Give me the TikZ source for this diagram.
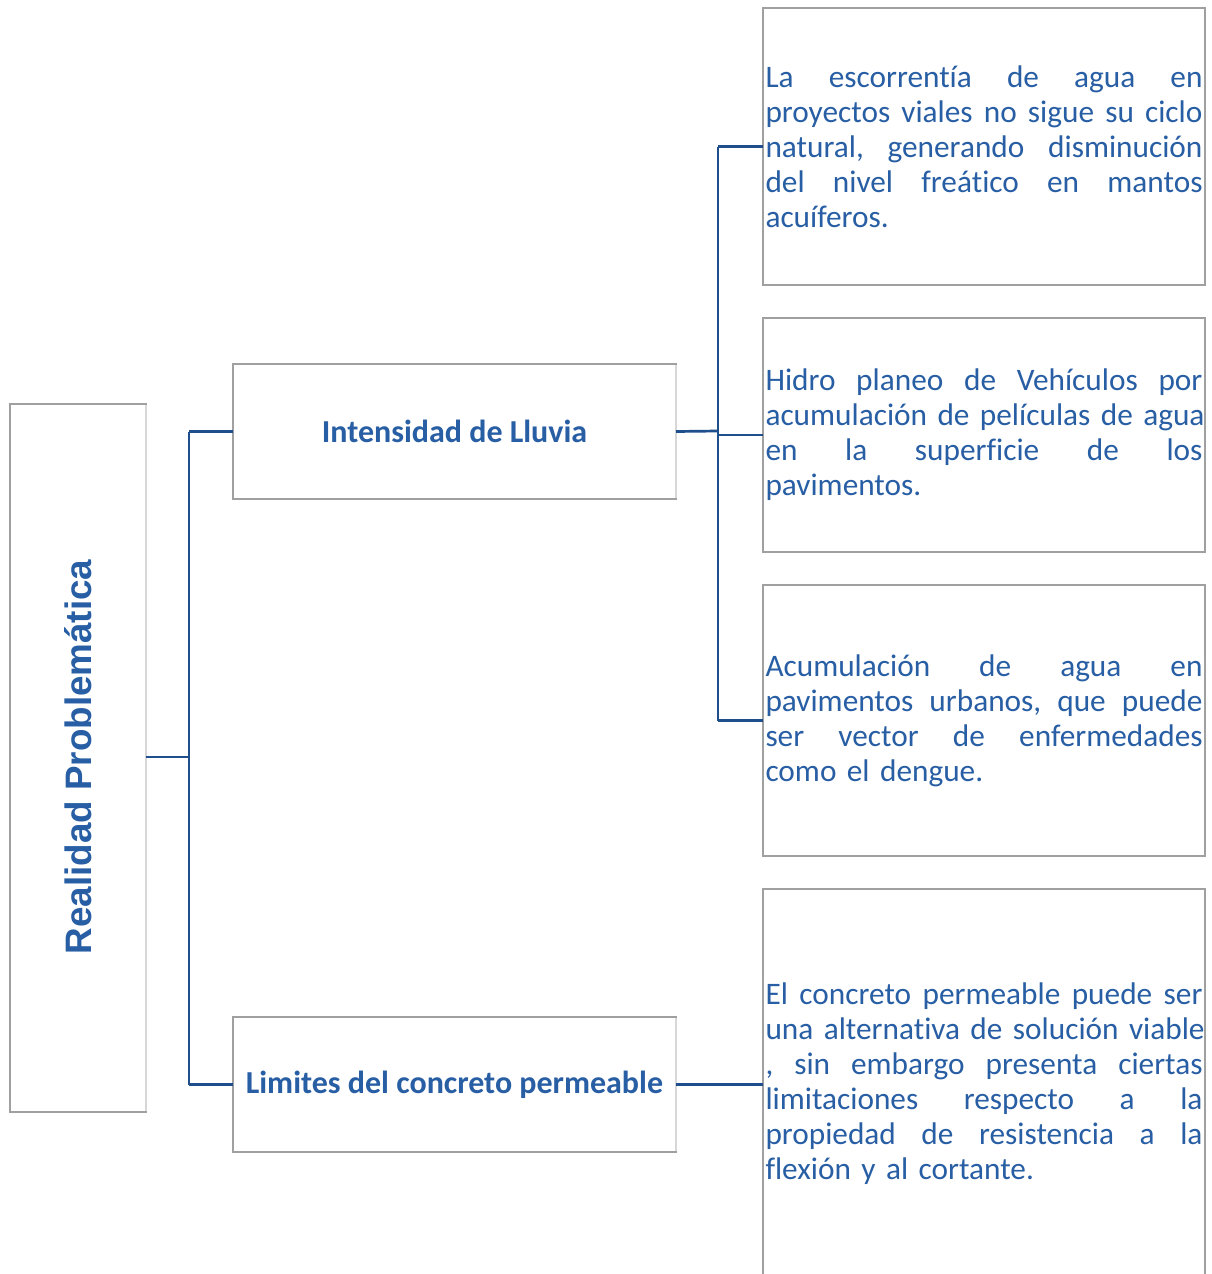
\documentclass[tikz,border=0pt]{standalone}
\usepackage{fontspec}
\setmainfont{Carlito}[Ligatures=NoCommon]
\newfontfamily\arialfont{Liberation Sans}
\definecolor{txtblue}{RGB}{40,94,164}
\definecolor{lineblue}{RGB}{31,78,140}
\definecolor{boxgray}{RGB}{160,160,160}
\definecolor{edgelight}{RGB}{215,215,215}
\newcommand{\jl}[1]{\leavevmode\hbox to 437pt{#1}\\}
\begin{document}
\begin{tikzpicture}[x=1pt,y=-1pt,
  box/.style={draw=boxgray,line width=1.5pt,fill=white,rectangle,outer sep=0pt},
  conn/.style={draw=lineblue,line width=2.7pt},
  lightedge/.style={draw=edgelight,line width=1.5pt},
  rtext/.style={box,text width=437pt,inner xsep=2.5pt,inner ysep=0pt,align=left,
    text=txtblue,font=\fontsize{31.3}{35}\selectfont,minimum width=442pt},
  midbox/.style={box,minimum width=443pt,minimum height=135pt,text=txtblue,
    font=\fontsize{32}{36}\selectfont\bfseries}
]
\useasboundingbox (0,0) rectangle (1212,1274);
\fill[white] (0,0) rectangle (1212,1274);
\begin{scope}
\clip (0,0) rectangle (1212,1274);
% root
\node[box,minimum width=136pt,minimum height=708pt] (root) at (78,758) {};
\draw[lightedge] ([yshift=-1pt]root.north east) -- ([yshift=1pt]root.south east);
\node[rotate=90,text=txtblue,font=\arialfont\fontsize{36.8}{40}\selectfont\bfseries] (roottxt) at (78,757) {Realidad Problemática};
% middle
\node[midbox] (lluvia) at (454.5,431.5) {Intensidad de Lluvia};
\draw[lightedge] ([yshift=-1pt]lluvia.north east) -- ([yshift=1pt]lluvia.south east);
\node[midbox] (limites) at (454.5,1084.5) {Limites del concreto permeable};
\draw[lightedge] ([yshift=-1pt]limites.north east) -- ([yshift=1pt]limites.south east);
% right boxes
\node[rtext,minimum height=277pt] (r1) at (984,146.5) {%
\jl{La \hfill escorrentía \hfill de \hfill agua \hfill en}
\jl{proyectos \hfill viales \hfill no \hfill sigue \hfill su \hfill ciclo}
\jl{natural, \hfill generando \hfill disminución}
\jl{del \hfill nivel \hfill freático \hfill en \hfill mantos}
acuíferos.};
\node[rtext,minimum height=234pt] (r2) at (984,435) {%
\jl{Hidro \hfill planeo \hfill de \hfill Vehículos \hfill por}
\jl{acumulación \hfill de \hfill películas \hfill de \hfill agua}
\jl{en \hfill la \hfill superficie \hfill de \hfill los}
pavimentos.};
\node[rtext,minimum height=271pt] (r3) at (984,720.5) {%
\jl{Acumulación \hfill de \hfill agua \hfill en}
\jl{pavimentos \hfill urbanos, \hfill que \hfill puede}
\jl{ser \hfill vector \hfill de \hfill enfermedades}
como el dengue.};
\node[rtext,minimum height=390pt] (r4) at (984,1084) {%
\jl{El \hfill concreto \hfill permeable \hfill puede \hfill ser}
\jl{una \hfill alternativa \hfill de \hfill solución \hfill viable}
\jl{, \hfill sin \hfill embargo \hfill presenta \hfill ciertas}
\jl{limitaciones \hfill respecto \hfill a \hfill la}
\jl{propiedad \hfill de \hfill resistencia \hfill a \hfill la}
flexión y al cortante.};
% connectors
\coordinate (j1) at (189,757);
\coordinate (j2) at (718,431);
\draw[conn] (root.east |- j1) -- (j1);
\draw[conn] (j1 |- lluvia.west) -- (j1 |- limites.west);
\draw[conn] (j1 |- lluvia.west) -- (lluvia.west);
\draw[conn] (j1 |- limites.west) -- (limites.west);
\draw[conn] (lluvia.east) -- (j2);
\draw[conn] (j2 |- r1.west) -- (j2 |- r3.west);
\draw[conn] (j2 |- r1.west) -- (r1.west);
\draw[conn] (j2 |- r2.west) -- (r2.west);
\draw[conn] (j2 |- r3.west) -- (r3.west);
\draw[conn] (limites.east) -- (limites.east -| r4.west);
\end{scope}
\end{tikzpicture}
\end{document}
